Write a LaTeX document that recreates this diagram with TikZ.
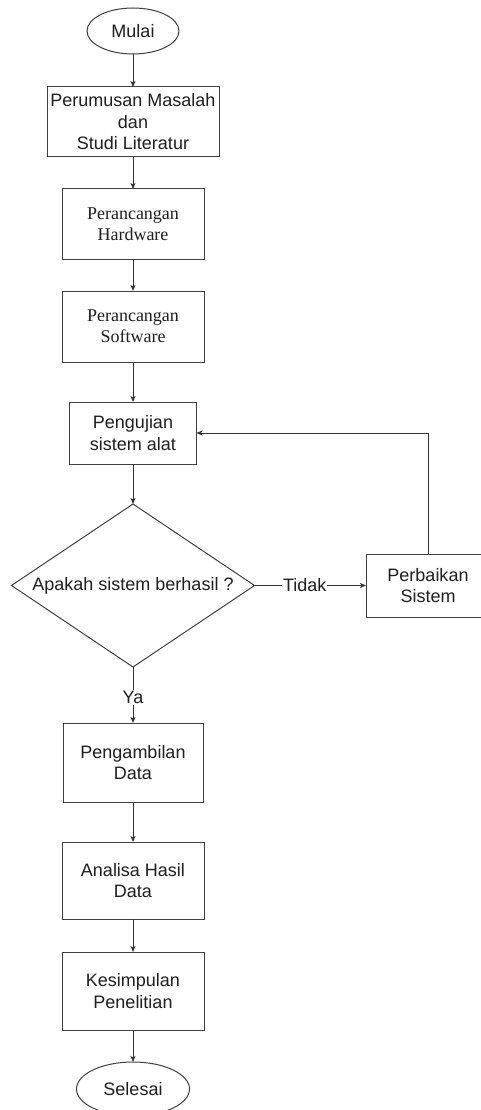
\documentclass[tikz,border=0pt]{standalone}
\usepackage{fontspec}
\setmainfont{Liberation Sans}
\newfontfamily\serifb{Liberation Serif}
\usetikzlibrary{shapes.geometric,arrows.meta,calc}
\begin{document}
\begin{tikzpicture}[x=1pt,y=-1pt,
  every node/.style={font=\fontsize{18}{21.5}\selectfont, text=black!88, align=center},
  proc/.style={draw=black!75, line width=1pt, rectangle, inner sep=0pt, outer sep=0pt},
  serifbox/.style={proc, font=\serifb\fontsize{18}{21}\selectfont},
  term/.style={draw=black!75, line width=1pt, ellipse, inner sep=0pt, outer sep=0pt},
  decision/.style={draw=black!75, line width=1pt, diamond, shape aspect=1.49, inner sep=0pt, outer sep=0pt},
  arr/.style={draw=black!80, line width=1pt, -{Stealth[length=6pt,width=5pt,inset=1.5pt]}},
  lbl/.style={fill=white, inner sep=1pt}]
\useasboundingbox (0,0) rectangle (481,1110);
\fill[white] (0,0) rectangle (481,1110);

\node[term, minimum width=92pt, minimum height=46pt] (mulai) at (133,31) {Mulai};
\node[proc, minimum width=172pt, minimum height=70pt] (rumus) at (133,122) {Perumusan Masalah\\dan\\Studi Literatur};
\node[serifbox, minimum width=142pt, minimum height=70pt] (hw) at (133,224) {Perancangan\\Hardware};
\node[serifbox, minimum width=142pt, minimum height=71pt] (sw) at (133,326.5) {Perancangan\\Software};
\node[proc, minimum width=127pt, minimum height=62pt] (uji) at (133,433) {Pengujian\\sistem alat};
\node[decision, minimum width=243pt, minimum height=163pt] (dec) at (133,585.5) {Apakah sistem berhasil ?};
\node[proc, minimum width=124pt, minimum height=63pt] (perb) at (428,585.5) {Perbaikan\\Sistem};
\node[proc, minimum width=140pt, minimum height=79pt] (ambil) at (133,762.5) {Pengambilan\\Data};
\node[proc, minimum width=142pt, minimum height=77pt] (analisa) at (133,880.5) {Analisa Hasil\\Data};
\node[proc, minimum width=142pt, minimum height=78pt] (kes) at (133,991) {Kesimpulan\\Penelitian};
\node[term, minimum width=113pt, minimum height=54pt] (selesai) at (133,1089) {Selesai};

\draw[arr] (mulai) -- (rumus);
\draw[arr] (rumus) -- (hw);
\draw[arr] (hw) -- (sw);
\draw[arr] (sw) -- (uji);
\draw[arr] (uji) -- (dec);
\draw[arr] (dec.east) -- node[lbl, pos=0.45] {Tidak} (perb.west);
\draw[arr] (perb.north) |- (uji.east);
\draw[arr] (dec.south) -- node[lbl, pos=0.54] {Ya} (ambil.north);
\draw[arr] (ambil) -- (analisa);
\draw[arr] (analisa) -- (kes);
\draw[arr] (kes) -- (selesai);
\end{tikzpicture}
\end{document}
